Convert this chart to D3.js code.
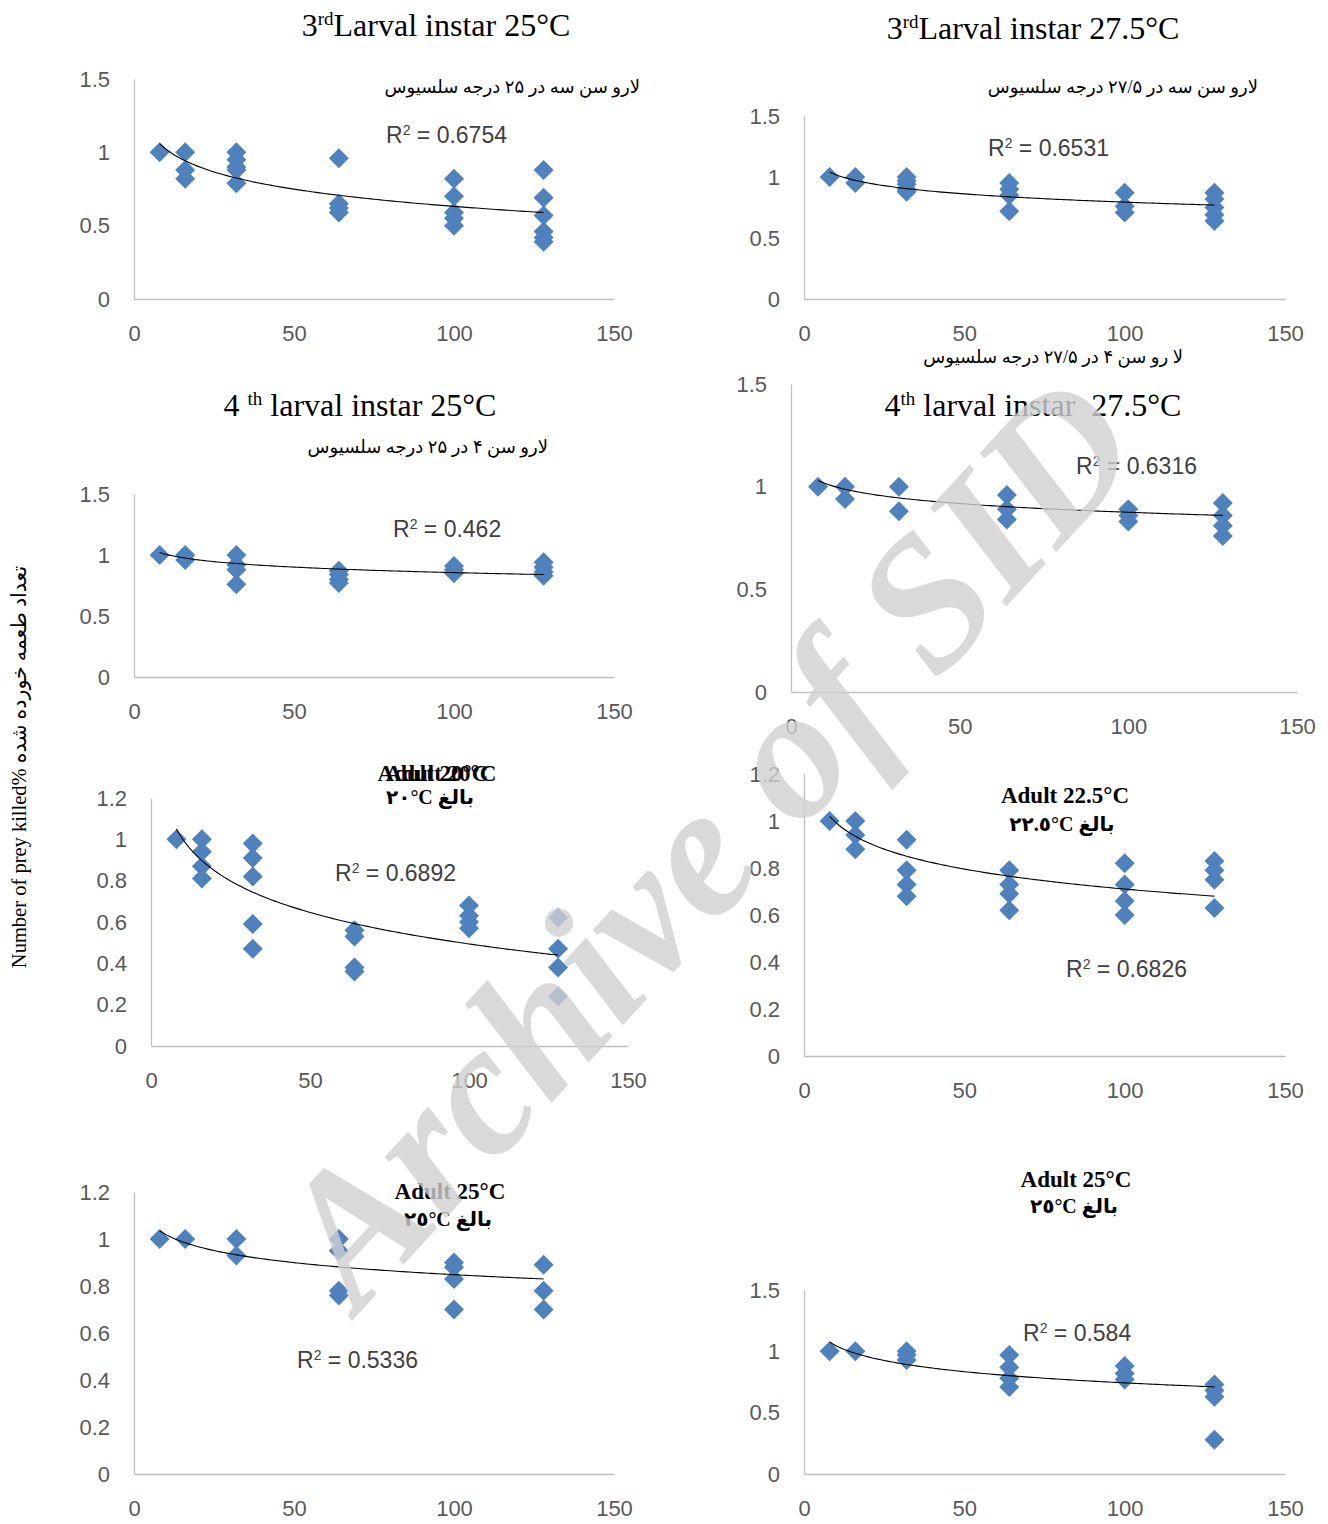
<!DOCTYPE html>
<html>
<head>
<meta charset="utf-8">
<script src="https://cdn.jsdelivr.net/npm/d3@7"></script>
<style>
  body { margin: 0; background: #fff; }
  svg { display: block; }
</style>
</head>
<body>
<div id="chart"></div>
<script>
// prey densities offered (x axis)
const densities = [8, 16, 32, 64, 100, 128];

// proportion of prey killed, one array of replicates per density
const l3_25 = [[1.0], [1.0, 0.88, 0.82], [1.0, 0.95, 0.9, 0.88, 0.79], [0.96, 0.65, 0.62, 0.59], [0.82, 0.7, 0.59, 0.55, 0.5], [0.88, 0.69, 0.57, 0.46, 0.42, 0.39]];
const l3_275 = [[1.0], [1.0, 0.95], [1.0, 0.97, 0.94, 0.9, 0.88], [0.95, 0.9, 0.85, 0.72], [0.87, 0.76, 0.71], [0.87, 0.82, 0.75, 0.69, 0.64]];
const l4_25 = [[1.0], [1.0, 0.96], [1.0, 0.92, 0.88, 0.76], [0.87, 0.84, 0.8, 0.77], [0.91, 0.88, 0.85], [0.94, 0.9, 0.86, 0.83]];
const l4_275 = [[1.0], [1.0, 0.94], [1.0, 0.88], [0.96, 0.89, 0.84], [0.89, 0.86, 0.83], [0.92, 0.86, 0.81, 0.76]];
const ad_20 = [[1.0], [1.0, 0.94, 0.87, 0.81], [0.98, 0.91, 0.82, 0.59, 0.47], [0.56, 0.53, 0.38, 0.36], [0.68, 0.63, 0.6, 0.57], [0.62, 0.47, 0.38, 0.24]];
const ad_225 = [[1.0], [1.0, 0.94, 0.88], [0.92, 0.79, 0.73, 0.68], [0.79, 0.73, 0.69, 0.62], [0.82, 0.73, 0.66, 0.6], [0.83, 0.79, 0.75, 0.63]];
const ad_25a = [[1.0], [1.0], [1.0, 0.93], [1.0, 0.95, 0.78, 0.76], [0.9, 0.88, 0.83, 0.7], [0.89, 0.78, 0.7]];
const ad_25b = [[1.0], [1.0], [1.0, 0.97, 0.93], [0.97, 0.87, 0.78, 0.71], [0.88, 0.82, 0.77], [0.73, 0.68, 0.63, 0.28]];

// logarithmic trend lines y = a*ln(x) + b
const trendSlope = [-0.1695, -0.0974, -0.065, -0.0613, -0.22, -0.1226, -0.074, -0.1316];
const trendIntercept = [1.412, 1.2425, 1.155, 1.1575, 1.507, 1.275, 1.189, 1.349];
const rSquared = ["0.6754", "0.6531", "0.462", "0.6316", "0.6892", "0.6826", "0.5336", "0.584"];

const titles = ["Larval instar 25°C", "Larval instar 27.5°C", " larval instar 25°C", " larval instar  27.5°C",
  "Adult 20°C", "Adult 22.5°C", "Adult 25°C", "Adult 25°C"];
const titleSups = ["3|rd", "3|rd", "4 |th", "4|th", null, null, null, null];
const persianLabels = ["لارو سن سه در ۲۵ درجه سلسیوس", "لارو سن سه در ۲۷/۵ درجه سلسیوس",
  "لارو سن ۴ در ۲۵ درجه سلسیوس", "لا رو سن ۴ در ۲۷/۵ درجه سلسیوس",
  "٢٠°C بالغ", "٢٢.٥°C بالغ", "٢٥°C بالغ", "٢٥°C بالغ"];
const yMaxes = [1.5, 1.5, 1.5, 1.5, 1.2, 1.2, 1.2, 1.5];
const yTicks = [[0, 0.5, 1, 1.5], [0, 0.5, 1, 1.5], [0, 0.5, 1, 1.5], [0, 0.5, 1, 1.5],
  [0, 0.2, 0.4, 0.6, 0.8, 1, 1.2], [0, 0.2, 0.4, 0.6, 0.8, 1, 1.2], [0, 0.2, 0.4, 0.6, 0.8, 1, 1.2], [0, 0.5, 1, 1.5]];
const xTicks = [0, 50, 100, 150];
const series = [l3_25, l3_275, l4_25, l4_275, ad_20, ad_225, ad_25a, ad_25b];

// ---- layout (pixels) ----
const W = 1328, H = 1524;
const panels = [
  { x0: 134, x1: 614, y0: 299, y1: 79,  title: [436, 25, "big"],   sub: [640, 87, "end"],   r2: [386, 135] },
  { x0: 804, x1: 1285, y0: 299, y1: 116, title: [1033, 28, "big"], sub: [1258, 87, "end"],  r2: [988, 148] },
  { x0: 134, x1: 614, y0: 677, y1: 494, title: [360, 405, "big"],  sub: [548, 447, "end"],  r2: [393, 529] },
  { x0: 791, x1: 1297, y0: 692, y1: 384, title: [1033, 405, "big"], sub: [1183, 357, "end"], r2: [1076, 466] },
  { x0: 151, x1: 628, y0: 1046, y1: 798, title: [437, 773, "bold2"], sub: [430, 797, "middle"], r2: [335, 873] },
  { x0: 804, x1: 1285, y0: 1056, y1: 774, title: [1065, 795, "bold"], sub: [1062, 824, "middle"], r2: [1066, 969] },
  { x0: 134, x1: 614, y0: 1474, y1: 1192, title: [450, 1191, "bold"], sub: [448, 1219, "middle"], r2: [297, 1360] },
  { x0: 804, x1: 1285, y0: 1474, y1: 1290, title: [1076, 1179, "bold"], sub: [1074, 1206, "middle"], r2: [1023, 1333] }
];

const BLUE = "#4F81BD";
const AXIS = "#bfbfbf";
const TICK_FONT = "'Liberation Sans', Arial, sans-serif";
const SERIF = "'Liberation Serif', 'Times New Roman', 'DejaVu Sans', serif";

const svg = d3.select("#chart").append("svg").attr("width", W).attr("height", H);

const diamond = d3.symbol().type(d3.symbolSquare).size(200);

panels.forEach((p, i) => {
  const x = d3.scaleLinear().domain([0, 150]).range([p.x0, p.x1]);
  const y = d3.scaleLinear().domain([0, yMaxes[i]]).range([p.y0, p.y1]);
  const g = svg.append("g");

  // axes: plain light lines, no tick marks
  const xAxis = g.append("g").attr("transform", `translate(0,${p.y0})`)
    .call(d3.axisBottom(x).tickValues(xTicks).tickSize(0).tickPadding(26).tickFormat(d3.format("d")));
  const yAxis = g.append("g").attr("transform", `translate(${p.x0},0)`)
    .call(d3.axisLeft(y).tickValues(yTicks[i]).tickSize(0).tickPadding(24).tickFormat(d => String(+d.toFixed(1))));
  [xAxis, yAxis].forEach(a => {
    a.select(".domain").attr("stroke", AXIS).attr("stroke-width", 1.3);
    a.selectAll("text").attr("fill", "#595959").style("font-family", TICK_FONT).style("font-size", "22px");
  });

  // points
  const pts = [];
  series[i].forEach((vals, k) => vals.forEach(v => pts.push([densities[k], v])));
  g.append("g").selectAll("path").data(pts).enter().append("path")
    .attr("d", diamond)
    .attr("transform", d => `translate(${x(d[0])},${y(d[1])}) rotate(45)`)
    .attr("fill", BLUE);

  // log trend line
  const xs = d3.range(densities[0], densities[densities.length - 1] + 0.5, 1);
  const line = d3.line().x(d => x(d)).y(d => y(trendSlope[i] * Math.log(d) + trendIntercept[i]));
  g.append("path").datum(xs).attr("d", line).attr("fill", "none").attr("stroke", "#000").attr("stroke-width", 1.1);

  // R² label
  const r = g.append("text").attr("x", p.r2[0]).attr("y", p.r2[1]).attr("dy", "0.35em")
    .attr("fill", "#404040").style("font-family", TICK_FONT).style("font-size", "23px");
  r.append("tspan").text("R");
  r.append("tspan").attr("dy", -8).style("font-size", "14px").text("2");
  r.append("tspan").attr("dy", 8).text(" = " + rSquared[i]);

  // title
  const [tx, ty, kind] = p.title;
  if (kind === "big") {
    const t = g.append("text").attr("x", tx).attr("y", ty).attr("dy", "0.35em").attr("text-anchor", "middle")
      .style("font-family", SERIF).style("font-size", "32px").style("white-space", "pre").attr("fill", "#000");
    const [num, sup] = titleSups[i].split("|");
    t.append("tspan").text(num);
    t.append("tspan").attr("dy", -11).style("font-size", "19px").text(sup);
    t.append("tspan").attr("dy", 11).text(titles[i]);
  } else {
    const offs = kind === "bold2" ? [-4, 4] : [0];
    offs.forEach(o => {
      g.append("text").attr("x", tx + o).attr("y", ty).attr("dy", "0.35em").attr("text-anchor", "middle")
        .style("font-family", SERIF).style("font-size", "23px").style("font-weight", "bold")
        .attr("fill", "#000").text(titles[i]);
    });
  }

  // persian caption
  const [sx, sy, anchor] = p.sub;
  g.append("text").attr("x", sx).attr("y", sy).attr("dy", "0.35em").attr("text-anchor", anchor)
    .style("font-family", SERIF).style("font-size", kind === "big" ? "18px" : "20px")
    .style("font-weight", kind === "big" ? "normal" : "bold")
    .attr("direction", "ltr").attr("fill", "#000").text(persianLabels[i]);
});

// shared y axis title
svg.append("text")
  .attr("transform", "translate(26,767) rotate(-90)")
  .attr("text-anchor", "middle")
  .style("font-family", SERIF).style("font-size", "20.5px").attr("fill", "#000")
  .text("Number of prey killed% تعداد طعمه خورده شده");

// watermark on top
svg.append("text")
  .attr("transform", "translate(705,838) rotate(-47.5)")
  .attr("text-anchor", "middle").attr("dy", "0.35em")
  .style("font-family", SERIF).style("font-size", "188px")
  .style("font-weight", "bold").style("font-style", "italic")
  .attr("fill", "#d0d0d0").attr("fill-opacity", 0.8)
  .text("Archive of SID");
</script>
</body>
</html>
